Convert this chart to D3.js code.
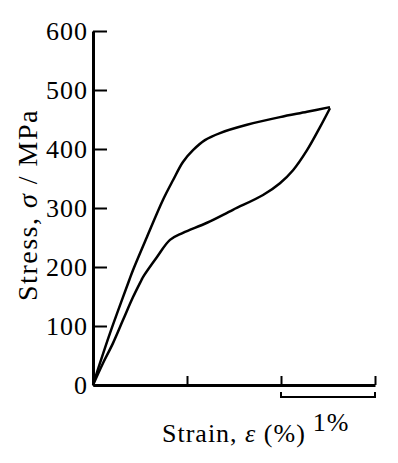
<!DOCTYPE html>
<html>
<head>
  <style>
    body { margin: 0; background: #fff; }
    text { font-family: "Liberation Serif", "Times New Roman", serif; fill: #000; }
  </style>
  <title>Stress vs Strain</title>
</head>
<body>
  <script src="https://cdn.jsdelivr.net/npm/d3@7/dist/d3.min.js"></script>
  <script>
    // values (strain in %, stress in MPa)
    var loadStrain   = [0, 0.074, 0.181, 0.319, 0.386, 0.426, 0.574, 0.745, 0.851, 0.957, 1.064, 1.191, 1.351, 1.638, 1.989, 2.277, 2.521];
    var loadStress   = [0, 37, 88, 149, 178, 195, 251, 314, 347, 378, 398, 415, 427, 441, 454, 463, 471];
    var unloadStrain = [2.521, 2.415, 2.277, 2.128, 1.989, 1.809, 1.489, 1.213, 0.957, 0.819, 0.681, 0.532, 0.516, 0.426, 0.319, 0.213, 0.106, 0];
    var unloadStress = [469, 437, 398, 364, 342, 322, 297, 275, 258, 246, 217, 183, 178, 149, 110, 71, 37, 0];
    var yTicks = [0, 100, 200, 300, 400, 500, 600];
    var xTicks = [1, 2, 3];
    var barRange = [2, 3];   // scale bar = 1%

    var w = 398, h = 463;
    var margin = {top: 31, right: 23, bottom: 78, left: 93};

    var x = d3.scaleLinear().domain([0, 3]).range([margin.left, w - margin.right]);
    var y = d3.scaleLinear().domain([0, 600]).range([h - margin.bottom, margin.top]);

    var svg = d3.select("body").append("svg")
                .attr("width", w)
                .attr("height", h);

    // curves
    var line = d3.line()
                 .x(function(d) { return x(d[0]); })
                 .y(function(d) { return y(d[1]); })
                 .curve(d3.curveCatmullRom);

    var load = loadStrain.map(function(s, i) { return [s, loadStress[i]]; });
    var unload = unloadStrain.map(function(s, i) { return [s, unloadStress[i]]; });

    svg.selectAll("path.curve")
       .data([load, unload])
       .enter().append("path")
       .attr("class", "curve")
       .attr("d", line)
       .attr("fill", "none").attr("stroke", "#000").attr("stroke-width", 2.5)
       .attr("stroke-linejoin", "round");

    // y axis, ticks pointing inward
    var yAxis = d3.axisLeft(y)
                  .tickValues(yTicks)
                  .tickSizeInner(-14)
                  .tickSizeOuter(0)
                  .tickPadding(5);
    var gy = svg.append("g")
       .attr("transform", "translate(" + margin.left + ",0)")
       .call(yAxis);
    gy.select(".domain").attr("stroke-width", 3);
    gy.selectAll(".tick line").attr("stroke-width", 2);
    gy.selectAll(".tick text")
      .attr("font-family", "Liberation Serif")
      .attr("font-size", 26)
      .attr("letter-spacing", 1);

    // x axis, no labels
    var xAxis = d3.axisBottom(x)
                  .tickValues(xTicks)
                  .tickSizeInner(-9)
                  .tickSizeOuter(0)
                  .tickFormat("");
    var gx = svg.append("g")
       .attr("transform", "translate(0," + y(0) + ")")
       .call(xAxis);
    gx.select(".domain").attr("stroke-width", 3);
    gx.selectAll(".tick line").attr("stroke-width", 2);

    // 1% scale bar under the axis
    var bar = svg.append("g").attr("transform", "translate(0," + (y(0) + 12) + ")");
    bar.append("path")
       .attr("d", "M" + x(barRange[0]) + ",-5V0H" + x(barRange[1]) + "V-5")
       .attr("fill", "none").attr("stroke", "#000").attr("stroke-width", 2);
    svg.append("text")
       .attr("x", (x(barRange[0]) + x(barRange[1])) / 2 + 3)
       .attr("y", 431)
       .attr("text-anchor", "middle")
       .attr("font-size", 26)
       .attr("letter-spacing", 1)
       .text("1%");

    // axis labels
    var xl = svg.append("text")
       .attr("x", 162)
       .attr("y", 442)
       .attr("font-size", 26)
       .attr("letter-spacing", 1);
    xl.append("tspan").text("Strain, ");
    xl.append("tspan").attr("font-style", "italic").text("ε");
    xl.append("tspan").text(" (%)");

    var yl = svg.append("text")
       .attr("transform", "translate(37," + 205 + ") rotate(-90)")
       .attr("text-anchor", "middle")
       .attr("font-size", 28)
       .attr("letter-spacing", 1.5);
    yl.append("tspan").text("Stress, ");
    yl.append("tspan").attr("font-style", "italic").text("σ");
    yl.append("tspan").text(" / MPa");
  </script>
</body>
</html>
